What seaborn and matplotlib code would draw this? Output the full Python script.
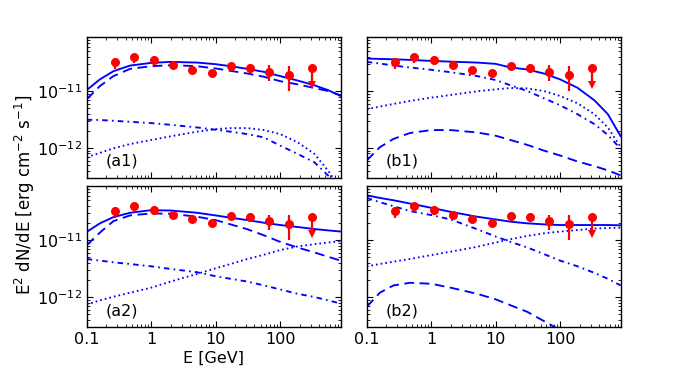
import numpy as np
import pandas as pd
import matplotlib
matplotlib.use("Agg")
import matplotlib.pyplot as plt
import seaborn as sns
from matplotlib.ticker import LogLocator, LogFormatterMathtext, NullFormatter, FixedLocator, FixedFormatter

# ---------------- data ----------------
E_grid = [0.1, 0.16, 0.26, 0.47, 1.0, 2.0, 5.15, 10.0, 17.0, 31.0, 56.0, 100.0, 186.0, 340.0, 550.0, 870.0]

# panel (a1)
a1_total = [1.04e-11, 1.6e-11, 2.23e-11, 2.8e-11, 3.12e-11, 3.25e-11, 3.16e-11, 2.96e-11, 2.73e-11, 2.45e-11, 2.17e-11, 1.83e-11, 1.53e-11, 1.26e-11, 1.04e-11, 8.18e-12]
a1_dashed = [7.16e-12, 1.22e-11, 1.83e-11, 2.45e-11, 2.73e-11, 2.84e-11, 2.73e-11, 2.49e-11, 2.26e-11, 2.03e-11, 1.78e-11, 1.49e-11, 1.31e-11, 1.13e-11, 1.0e-11, 8.4e-12]
a1_dashdot = [3.12e-12, 3.1e-12, 3.0e-12, 2.88e-12, 2.73e-12, 2.55e-12, 2.29e-12, 2.09e-12, 1.93e-12, 1.75e-12, 1.53e-12, 1.1e-12, 7.86e-13, 5.6e-13, 3.3e-13, 1.8e-13]
a1_dotted = [6.87e-13, 8.18e-13, 9.87e-13, 1.17e-12, 1.38e-12, 1.6e-12, 1.93e-12, 2.14e-12, 2.23e-12, 2.23e-12, 2.06e-12, 1.75e-12, 1.26e-12, 7.86e-13, 4.03e-13, 1.93e-13]

# panel (b1)
b1_total = [3.72e-11, 3.66e-11, 3.61e-11, 3.52e-11, 3.38e-11, 3.28e-11, 3.16e-11, 3.0e-11, 2.59e-11, 2.39e-11, 2.03e-11, 1.6e-11, 1.14e-11, 6.87e-12, 3.92e-12, 1.6e-12]
b1_dashdot = [3.25e-11, 3.04e-11, 2.8e-11, 2.59e-11, 2.36e-11, 2.14e-11, 1.83e-11, 1.56e-11, 1.26e-11, 1.0e-11, 7.45e-12, 5.62e-12, 3.92e-12, 2.62e-12, 1.69e-12, 9.62e-13]
b1_dotted = [4.79e-12, 5.33e-12, 5.93e-12, 6.7e-12, 7.65e-12, 8.52e-12, 9.87e-12, 1.07e-11, 1.13e-11, 1.11e-11, 1.0e-11, 8.18e-12, 6.09e-12, 3.92e-12, 2.29e-12, 1.03e-12]
b1_dashed = [6.01e-13, 1.03e-12, 1.44e-12, 1.83e-12, 2.06e-12, 2.06e-12, 1.87e-12, 1.64e-12, 1.38e-12, 1.13e-12, 8.98e-13, 7.35e-13, 5.78e-13, 4.79e-13, 4.03e-13, 3.29e-13]

# panel (a2)
a2_total = [1.4e-11, 1.98e-11, 2.55e-11, 3.04e-11, 3.38e-11, 3.33e-11, 3.04e-11, 2.73e-11, 2.49e-11, 2.26e-11, 2.03e-11, 1.85e-11, 1.71e-11, 1.57e-11, 1.49e-11, 1.42e-11]
a2_dashed = [8.18e-12, 1.36e-11, 2.17e-11, 2.73e-11, 2.96e-11, 2.92e-11, 2.59e-11, 2.26e-11, 1.9e-11, 1.56e-11, 1.22e-11, 9.35e-12, 7.45e-12, 6.09e-12, 5.13e-12, 4.37e-12]
a2_dashdot = [4.67e-12, 4.37e-12, 4.08e-12, 3.81e-12, 3.47e-12, 3.12e-12, 2.73e-12, 2.32e-12, 2.09e-12, 1.87e-12, 1.6e-12, 1.36e-12, 1.14e-12, 1.0e-12, 8.75e-13, 7.66e-13]
a2_dotted = [7.35e-13, 8.75e-13, 1.01e-12, 1.19e-12, 1.46e-12, 1.87e-12, 2.55e-12, 3.2e-12, 3.81e-12, 4.67e-12, 5.55e-12, 6.7e-12, 7.76e-12, 8.52e-12, 9.1e-12, 9.62e-12]

# panel (b2)
b2_total = [6.18e-11, 5.55e-11, 5.05e-11, 4.42e-11, 3.72e-11, 3.16e-11, 2.59e-11, 2.32e-11, 2.12e-11, 1.98e-11, 1.9e-11, 1.85e-11, 1.85e-11, 1.85e-11, 1.85e-11, 1.83e-11]
b2_dashdot = [5.55e-11, 4.67e-11, 3.97e-11, 3.25e-11, 2.77e-11, 2.32e-11, 1.56e-11, 1.16e-11, 9.35e-12, 7.45e-12, 5.7e-12, 4.37e-12, 3.47e-12, 2.66e-12, 2.09e-12, 1.6e-12]
b2_dotted = [3.47e-12, 3.81e-12, 4.19e-12, 4.67e-12, 5.47e-12, 6.27e-12, 7.65e-12, 9.1e-12, 1.04e-11, 1.19e-11, 1.32e-11, 1.42e-11, 1.51e-11, 1.6e-11, 1.64e-11, 1.66e-11]
b2_dashed = [6.7e-13, 1.19e-12, 1.6e-12, 1.78e-12, 1.71e-12, 1.46e-12, 1.14e-12, 9.1e-13, 7.16e-13, 5.47e-13, 3.77e-13, 2.62e-13, 1.88e-13, 1.3e-13, 1.0e-13, 8.0e-14]

# observed points (same in all panels)
obs_E = [0.277, 0.55, 1.09, 2.18, 4.3, 8.8, 17.6, 34.7, 68.0, 135.0]
obs_F = [3.26e-11, 3.98e-11, 3.47e-11, 2.81e-11, 2.33e-11, 2.04e-11, 2.7e-11, 2.52e-11, 2.15e-11, 1.9e-11]
obs_lo = [2.46e-11, 3.13e-11, 2.81e-11, 2.39e-11, 2.1e-11, 1.85e-11, 2.45e-11, 2.09e-11, 1.5e-11, 1.0e-11]
obs_hi = [3.87e-11, 4.55e-11, 4.08e-11, 3.2e-11, 2.55e-11, 2.2e-11, 2.95e-11, 2.96e-11, 2.81e-11, 2.73e-11]
ul_E = [313.0]
ul_F = [2.52e-11]
ul_end = [1.3e-11]

panel_labels = ["(a1)", "(b1)", "(a2)", "(b2)"]
x_ticks = [0.1, 1, 10, 100]
x_ticklabels = ["0.1", "1", "10", "100"]
y_ticks = [1e-12, 1e-11]

# ---------------- style ----------------
sns.set_style("ticks")
plt.rcParams["font.family"] = ["DejaVu Sans"]
plt.rcParams["mathtext.fontset"] = "dejavusans"
plt.rcParams["axes.unicode_minus"] = False
plt.rcParams["lines.scale_dashes"] = False
plt.rcParams["text.color"] = "black"
plt.rcParams["axes.labelcolor"] = "black"
plt.rcParams["xtick.color"] = "black"
plt.rcParams["ytick.color"] = "black"

styles = {
    "total": "-",
    "dashed": (0, (7, 4)),
    "dashdot": (0, (4, 3, 1.2, 3)),
    "dotted": (0, (1.2, 2.2)),
}

panels = {
    "(a1)": dict(total=a1_total, dashed=a1_dashed, dashdot=a1_dashdot, dotted=a1_dotted),
    "(b1)": dict(total=b1_total, dashed=b1_dashed, dashdot=b1_dashdot, dotted=b1_dotted),
    "(a2)": dict(total=a2_total, dashed=a2_dashed, dashdot=a2_dashdot, dotted=a2_dotted),
    "(b2)": dict(total=b2_total, dashed=b2_dashed, dashdot=b2_dashdot, dotted=b2_dotted),
}

W, H = 692, 373
fig = plt.figure(figsize=(W / 100, H / 100), dpi=100)

def box(l, t, r, b):
    return [l / W, 1 - b / H, (r - l) / W, (b - t) / H]

positions = {
    "(a1)": box(86.7, 36.7, 340.7, 177.7),
    "(b1)": box(366.7, 36.7, 620.7, 177.7),
    "(a2)": box(86.7, 186.0, 340.7, 326.7),
    "(b2)": box(366.7, 186.0, 620.7, 326.7),
}

FS = 11.5
for label in panel_labels:
    ax = fig.add_axes(positions[label])
    ax.set_xscale("log")
    ax.set_yscale("log")
    d = panels[label]
    for comp in ["dotted", "dashdot", "dashed", "total"]:
        yv = d[comp]
        n = len(yv)
        sns.lineplot(x=E_grid[:n], y=yv, ax=ax, color="blue", linestyle=styles[comp],
                     linewidth=1.35, sort=False, estimator=None)
    # data points
    yerr = [np.array(obs_F) - np.array(obs_lo), np.array(obs_hi) - np.array(obs_F)]
    ax.errorbar(obs_E, obs_F, yerr=yerr, fmt="none", ecolor="red", elinewidth=1.6, capsize=0, zorder=5)
    sns.scatterplot(x=obs_E, y=obs_F, ax=ax, color="red", s=42, edgecolor="red", linewidth=0, zorder=6)
    # upper limit
    for xe, yf, ye in zip(ul_E, ul_F, ul_end):
        ax.plot([xe, xe], [yf, ye], color="red", lw=1.6, zorder=5)
        ax.plot([xe], [ye], marker="v", color="red", ms=6, mew=0, zorder=6)
    sns.scatterplot(x=ul_E, y=ul_F, ax=ax, color="red", s=42, edgecolor="red", linewidth=0, zorder=6)

    ax.set_xlim(0.1, 870)
    ax.set_ylim(3e-13, 9e-11)
    ax.tick_params(which="both", direction="in", top=True, right=True, colors="black", labelcolor="black")
    ax.tick_params(which="major", length=4.5, width=0.8, labelsize=FS)
    ax.tick_params(which="minor", length=2.2, width=0.6)
    ax.yaxis.set_major_locator(FixedLocator(y_ticks))
    ax.yaxis.set_minor_locator(LogLocator(base=10, subs=np.arange(2, 10) * 1.0, numticks=20))
    ax.yaxis.set_minor_formatter(NullFormatter())
    ax.xaxis.set_major_locator(FixedLocator(x_ticks))
    ax.xaxis.set_minor_locator(LogLocator(base=10, subs=np.arange(2, 10) * 1.0, numticks=20))
    ax.xaxis.set_minor_formatter(NullFormatter())
    if label in ("(a2)", "(b2)"):
        ax.xaxis.set_major_formatter(FixedFormatter(x_ticklabels))
    else:
        ax.xaxis.set_major_formatter(NullFormatter())
    if label in ("(a1)", "(a2)"):
        ax.yaxis.set_major_formatter(LogFormatterMathtext())
    else:
        ax.yaxis.set_major_formatter(NullFormatter())
    for s in ax.spines.values():
        s.set_linewidth(1.0)
        s.set_color("black")
    ax.set_xlabel("")
    ax.set_ylabel("")
    ax.text(0.075, 0.115, label, transform=ax.transAxes, fontsize=FS, va="center", ha="left", color="black")
    if label == "(a2)":
        ax.set_xlabel("E [GeV]", fontsize=FS, labelpad=3, color="black")

fig.text(25 / W, 1 - 195 / H, r"E$^2$ dN/dE [erg cm$^{-2}$ s$^{-1}$]", rotation=90,
         fontsize=FS + 0.5, va="center", ha="center", color="black")

fig.savefig("out.png", dpi=100)
